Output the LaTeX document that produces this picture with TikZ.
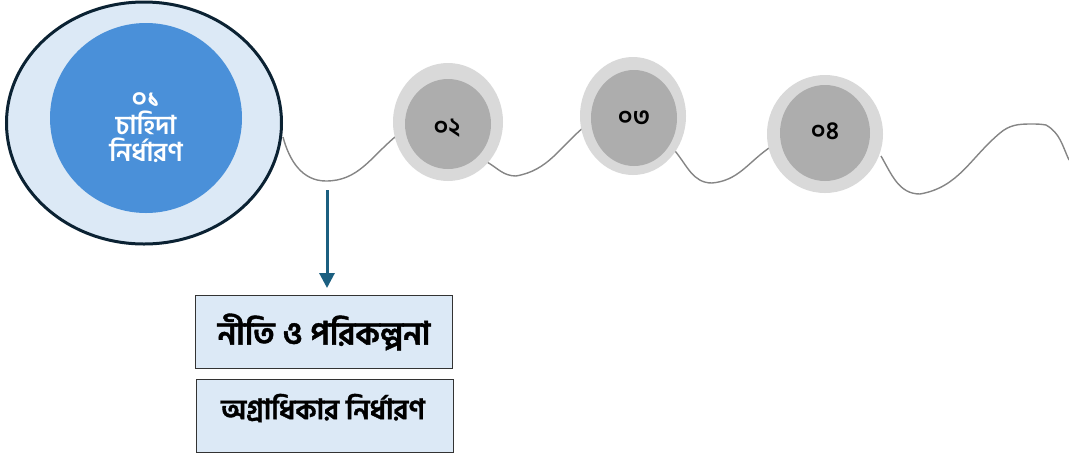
\documentclass[tikz,border=0pt]{standalone}
\usepackage{fontspec}
\newfontfamily\bn[Script=Bengali]{Hind Siliguri}
\newfontfamily\bnb[Script=Bengali,FakeBold=1.2]{Hind Siliguri}
\usetikzlibrary{shapes.geometric,arrows.meta}
\definecolor{navy}{HTML}{0B2233}
\definecolor{paleblue}{HTML}{DCE9F6}
\definecolor{midblue}{HTML}{4A90D9}
\definecolor{lgray}{HTML}{D9D9D9}
\definecolor{dgray}{HTML}{ADADAD}
\definecolor{wave}{HTML}{858585}
\definecolor{arrowblue}{HTML}{1B5F80}
\tikzset{
  outerc/.style={ellipse, fill=lgray, inner sep=0pt},
  innerc/.style={ellipse, fill=dgray, inner sep=0pt, text=black},
  numtxt/.style={font=\bn\bfseries\fontsize{25}{28}\selectfont, text=black, inner sep=0pt},
  wavy/.style={draw=wave, line width=1.4pt},
  stepbox/.style={draw=black!80, line width=0.9pt, fill=paleblue, minimum width=257pt, minimum height=73pt, inner sep=0pt}
}
\begin{document}
\begin{tikzpicture}[x=1pt,y=-1pt]
\useasboundingbox (0,0) rectangle (1069,459);
% wave coordinates
\coordinate (a0) at (283,137);
\coordinate (a1) at (326,181);
\coordinate (a2) at (395,137);
\coordinate (b0) at (487,162);
\coordinate (b1) at (516,176);
\coordinate (b2) at (584,127);
\coordinate (c0) at (675,151);
\coordinate (c1) at (712,183);
\coordinate (c2) at (769,148);
\coordinate (d0) at (881,156);
\coordinate (d1) at (920,194);
\coordinate (d2) at (1000,133);
\coordinate (d3) at (1030,124);
\coordinate (d4) at (1046,125);
\coordinate (d5) at (1069,160);
\draw[wavy] (a0) to[out=-75,in=180] (a1) to[out=0,in=-140] (a2);
\draw[wavy] (b0) to[out=-30,in=180] (b1) to[out=10,in=-140] (b2);
\draw[wavy] (c0) to[out=-50,in=180] (c1) to[out=5,in=-145] (c2);
\draw[wavy] (d0) to[out=-60,in=180] (d1) to[out=10,in=-140] (d2) to[out=40,in=180] (d3) to[out=0,in=170] (d4) to[out=-30,in=115] (d5);
% big circle
\node[ellipse, draw=navy, line width=3pt, fill=paleblue, minimum width=275pt, minimum height=242pt, inner sep=0pt] (big) at (144,123) {};
\node[ellipse, fill=midblue, minimum width=192pt, minimum height=190pt, inner sep=0pt] (bigin) at (146,118) {};
\node[align=center, text=white, font=\bn\bfseries\fontsize{26}{27}\selectfont] (bigtxt) at (146,128) {০১\\চাহিদা\\নির্ধারণ};
% small circles
\node[outerc, minimum width=110pt, minimum height=118pt] (o2) at (448,122) {};
\node[innerc, minimum width=86pt, minimum height=90pt] (n2) at (448,124) {};
\node[numtxt] (t2) at (447,128) {০২};
\node[outerc, minimum width=106pt, minimum height=118pt] (o3) at (633,116) {};
\node[innerc, minimum width=86pt, minimum height=96pt] (n3) at (634,118) {};
\node[numtxt] (t3) at (634,118) {০৩};
\node[outerc, minimum width=116pt, minimum height=118pt] (o4) at (825,134) {};
\node[innerc, minimum width=90pt, minimum height=96pt] (n4) at (825,133) {};
\node[numtxt] (t4) at (825,131) {০৪};
% boxes
\node[stepbox, font=\bnb\bfseries\fontsize{32}{36}\selectfont] (box1) at (324,332) {নীতি ও পরিকল্পনা};
\node[stepbox] (box2) at (325,416) {};
\node[font=\bnb\bfseries\fontsize{28}{32}\selectfont] (box2txt) at (323,408) {অগ্রাধিকার নির্ধারণ};
\coordinate (arrtop) at (327,190);
\draw[arrowblue, line width=3pt, -{Triangle[width=15pt,length=15pt]}] (arrtop) -- (327,288);
\end{tikzpicture}
\end{document}
